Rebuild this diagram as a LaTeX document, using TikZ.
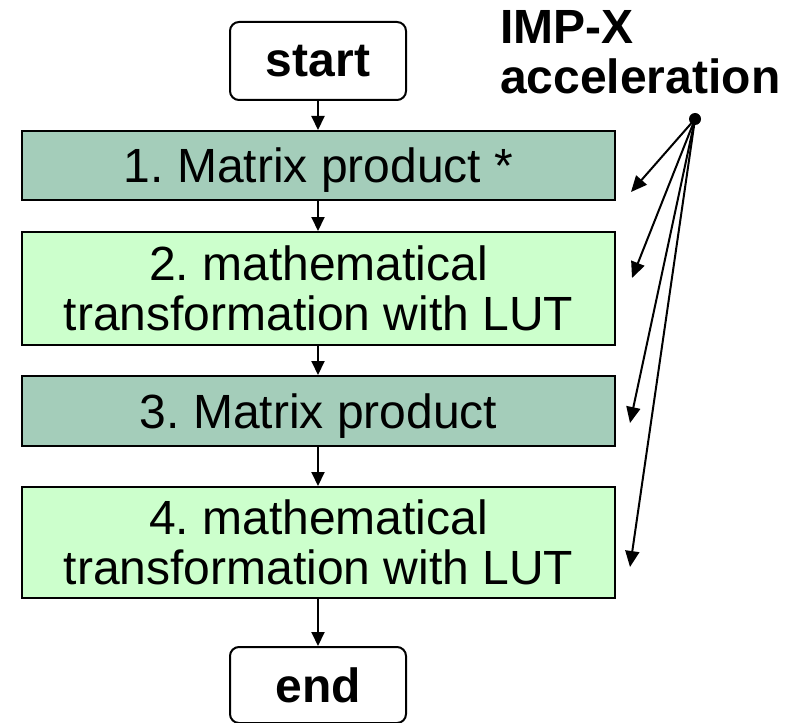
\documentclass[tikz,border=0pt]{standalone}
\usepackage{fontspec}
\setmainfont{Liberation Sans}
\usetikzlibrary{arrows.meta}
\definecolor{stepdark}{RGB}{164,205,186}
\definecolor{steplight}{RGB}{204,255,204}
\frenchspacing
\begin{document}
\begin{tikzpicture}[x=1pt,y=-1pt,
  txt/.style={font=\fontsize{48}{50}\selectfont, align=center, inner sep=0pt},
  oneline/.style={text height=34.4pt, text depth=0pt},
  term/.style={txt, font=\fontsize{48}{50}\selectfont\bfseries, draw=black, line width=2pt,
    rounded corners=9pt, fill=white, minimum width=176pt},
  stepbox/.style={txt, draw=black, line width=2pt, minimum width=593pt},
  flow/.style={line width=2pt, -{Triangle[length=14pt,width=13pt]}},
  hint/.style={line width=2pt, -{Triangle[length=16pt,width=14pt]}}]
\useasboundingbox (0,0) rectangle (802,722);
\clip (0,0) rectangle (802,722);

% flow steps
\node[term, minimum height=78pt] (start) at (318,61) {start};
\node[stepbox, oneline, fill=stepdark, minimum height=69pt] (s1) at (318.5,165.5) {1. Matrix product *};
\node[stepbox, fill=steplight, minimum height=113pt] (s2) at (318.5,288.5) {2. mathematical\\transformation with LUT};
\node[stepbox, oneline, fill=stepdark, minimum height=70pt] (s3) at (318.5,411) {3. Matrix product};
\node[stepbox, fill=steplight, minimum height=111pt] (s4) at (318.5,542.5) {4. mathematical\\transformation with LUT};
\node[term, minimum height=76pt] (end) at (318,685) {end};

\draw[flow] (start.south -| 318,0) -- (s1.north -| 318,0);
\draw[flow] (s1.south -| 318,0) -- (s2.north -| 318,0);
\draw[flow] (s2.south -| 318,0) -- (s3.north -| 318,0);
\draw[flow] (s3.south -| 318,0) -- (s4.north -| 318,0);
\draw[flow] (s4.south -| 318,0) -- (end.north -| 318,0);

% accelerator label and its pointers
\node[font=\fontsize{48}{50}\selectfont\bfseries, align=left, inner sep=0pt, anchor=north west]
  (imp) at (500,10) {IMP-X\\acceleration};
\fill (695,119) circle (6pt);
\coordinate (dot) at (695,119);
\coordinate (t1) at (631,192);
\coordinate (t2) at (632,278);
\coordinate (t3) at (630,423);
\coordinate (t4) at (630,567);
\foreach \t in {t1,t2,t3,t4} \draw[hint] (dot) -- (\t);
\end{tikzpicture}
\end{document}
